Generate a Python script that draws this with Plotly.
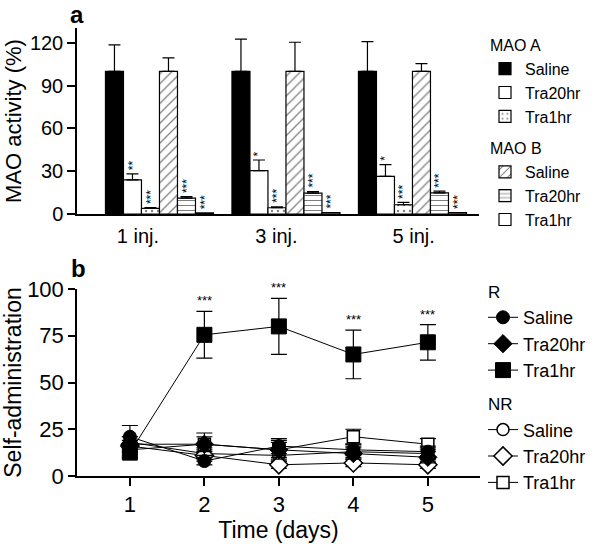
import plotly.graph_objects as go

FONT = "Liberation Sans, Arial, sans-serif"

# ---------------- Panel a data ----------------
injections = ["1 inj.", "3 inj.", "5 inj."]
group_index = [0, 1, 2]
mao_a_saline = [100, 100, 100]
mao_a_saline_err = [18.6, 22.7, 21.0]
mao_a_tra20 = [24.0, 30.4, 26.4]
mao_a_tra20_err = [4.2, 7.5, 8.2]
mao_a_tra1 = [4.0, 4.4, 6.5]
mao_a_tra1_err = [0.5, 0.6, 1.6]
mao_b_saline = [100, 100, 100]
mao_b_saline_err = [9.5, 20.5, 5.5]
mao_b_tra20 = [11.2, 14.7, 14.8]
mao_b_tra20_err = [1.0, 1.0, 1.2]
mao_b_tra1 = [0.8, 1.0, 1.0]
mao_b_tra1_err = [0.0, 0.0, 0.0]

stars_a_tra20 = ["**", "*", "*"]
stars_a_tra1 = ["***", "***", "***"]
stars_b_tra20 = ["***", "***", "***"]
stars_b_tra1 = ["***", "***", "***"]

# ---------------- Panel b data ----------------
days = [1, 2, 3, 4, 5]
r_saline = [21, 8, 16, 14, 13]
r_saline_err = [6, 2, 4, 3, 3]
r_tra20 = [17, 17, 14, 12, 10]
r_tra20_err = [4, 4, 4, 3, 3]
r_tra1 = [12.5, 75.5, 80, 65, 71.5]
r_tra1_err = [3, 12.5, 15, 13, 9.5]
nr_saline = [18, 12, 11, 13, 12]
nr_saline_err = [3, 3, 3, 3, 3]
nr_tra20 = [16, 11, 6, 7, 6]
nr_tra20_err = [3, 3, 2, 2, 2]
nr_tra1 = [14, 17, 14, 21, 17]
nr_tra1_err = [4, 6, 5, 4, 3]
stars_r_tra1 = ["", "***", "***", "***", "***"]

W, H = 602, 544
fig = go.Figure()

n_bars = 6
bargap = 0.146
bar_w = (1 - bargap) / n_bars

bar_specs = [
    ("MAO A", "Saline", mao_a_saline, mao_a_saline_err, dict(color="black"), None),
    ("MAO A", "Tra20hr", mao_a_tra20, mao_a_tra20_err, dict(color="white"), stars_a_tra20),
    ("MAO A", "Tra1hr", mao_a_tra1, mao_a_tra1_err,
     dict(color="white", pattern=dict(shape=".", fgcolor="black", bgcolor="white", size=6, solidity=0.12)),
     stars_a_tra1),
    ("MAO B", "Saline", mao_b_saline, mao_b_saline_err,
     dict(color="white", pattern=dict(shape="/", fgcolor="black", bgcolor="white", size=7, solidity=0.18)),
     None),
    ("MAO B", "Tra20hr", mao_b_tra20, mao_b_tra20_err,
     dict(color="white", pattern=dict(shape="-", fgcolor="black", bgcolor="white", size=5, solidity=0.2)),
     stars_b_tra20),
    ("MAO B", "Tra1hr", mao_b_tra1, mao_b_tra1_err, dict(color="white"), stars_b_tra1),
]

LEG_A_FONT = 16

annotations = []
for i, (grp, name, vals, errs, mk, stars) in enumerate(bar_specs):
    marker = dict(mk)
    marker["line"] = dict(color="black", width=1.2)
    fig.add_trace(go.Bar(
        x=group_index, y=vals, name=name,
        legendgroup=grp,
        legendgrouptitle=dict(text=grp, font=dict(size=LEG_A_FONT, family=FONT, color="black")),
        marker=marker,
        error_y=dict(type="data", array=errs, arrayminus=[0] * len(errs), symmetric=False,
                     color="black", thickness=1.2, width=6, visible=any(e > 0 for e in errs)),
        xaxis="x", yaxis="y", legend="legend",
    ))
    if stars:
        for g, v, e, s in zip(group_index, vals, errs, stars):
            annotations.append(dict(
                x=g + (i - (n_bars - 1) / 2) * bar_w, y=v + e, xref="x", yref="y",
                text=s, showarrow=False, textangle=-90, yanchor="bottom", xanchor="center",
                yshift=2, font=dict(size=12, family=FONT, color="black")))

line_specs = [
    ("NR", "Saline", nr_saline, nr_saline_err, "circle", 12, 4, True),
    ("NR", "Tra20hr", nr_tra20, nr_tra20_err, "diamond", 14, 5, True),
    ("NR", "Tra1hr", nr_tra1, nr_tra1_err, "square", 12, 6, True),
    ("R", "Saline", r_saline, r_saline_err, "circle", 13, 1, False),
    ("R", "Tra20hr", r_tra20, r_tra20_err, "diamond", 14, 2, False),
    ("R", "Tra1hr", r_tra1, r_tra1_err, "square", 15, 3, False),
]
for grp, name, vals, errs, sym, size, rank, is_open in line_specs:
    fig.add_trace(go.Scatter(
        x=days, y=vals, name=name, mode="lines+markers",
        legendgroup=grp, legendrank=rank,
        legendgrouptitle=dict(text=grp, font=dict(size=17, family=FONT, color="black")),
        line=dict(color="black", width=1),
        marker=dict(symbol=sym, size=size, color="white" if is_open else "black",
                    line=dict(color="black", width=1.5 if is_open else 1)),
        error_y=dict(type="data", array=errs, color="black", thickness=1.2, width=8),
        cliponaxis=False, xaxis="x2", yaxis="y2", legend="legend2",
    ))

for d, v, e, s in zip(days, r_tra1, r_tra1_err, stars_r_tra1):
    if s:
        annotations.append(dict(x=d, y=v + e, xref="x2", yref="y2", text=s, showarrow=False,
                                yanchor="bottom", yshift=1, font=dict(size=13, family=FONT, color="black")))

annotations.append(dict(x=76.5 / W, y=1 - 14 / H, xref="paper", yref="paper", text="<b>a</b>",
                        xanchor="center", yanchor="middle",
                        showarrow=False, font=dict(size=24, family=FONT, color="black")))
annotations.append(dict(x=78 / W, y=1 - 268 / H, xref="paper", yref="paper", text="<b>b</b>",
                        xanchor="center", yanchor="middle",
                        showarrow=False, font=dict(size=24, family=FONT, color="black")))

axis_common = dict(showgrid=False, zeroline=False, showline=True, linecolor="black", linewidth=1.5,
                   tickcolor="black", tickwidth=1.5, automargin=False,
                   tickfont=dict(size=20, family=FONT, color="black"))

fig.update_layout(
    width=W, height=H,
    margin=dict(l=0, r=0, t=0, b=0, autoexpand=False),
    paper_bgcolor="white", plot_bgcolor="white",
    font=dict(family=FONT, color="black"),
    barmode="group", bargap=bargap, bargroupgap=0,
    annotations=annotations,
    xaxis=dict(axis_common, domain=[77 / W, 479 / W], range=[-0.652, 2.526], anchor="y",
               tickvals=[-0.17, 0.925, 2.01], ticktext=injections, ticks="", ticklabelstandoff=3),
    yaxis=dict(axis_common, domain=[1 - 214 / H, 1 - 28 / H], range=[0, 130.5], anchor="x",
               tickvals=[0, 30, 60, 90, 120], ticks="outside", ticklen=8,
               title=dict(text="MAO activity (%)", font=dict(size=22, family=FONT, color="black"), standoff=2)),
    xaxis2=dict(axis_common, domain=[77 / W, 480 / W], range=[0.29, 5.70], anchor="y2",
                tickvals=days, ticks="outside", ticklen=8, tickfont=dict(size=22, family=FONT, color="black"),
                title=dict(text="Time (days)", font=dict(size=23, family=FONT, color="black"), standoff=2)),
    yaxis2=dict(axis_common, domain=[1 - 476 / H, 1 - 289 / H], range=[0, 100], anchor="x2",
                tickvals=[0, 25, 50, 75, 100], ticks="outside", ticklen=7,
                tickfont=dict(size=22, family=FONT, color="black"),
                title=dict(text="Self-administration", font=dict(size=23, family=FONT, color="black"), standoff=0)),
    legend=dict(x=485 / W, y=1 - 28 / H, xanchor="left", yanchor="top", traceorder="grouped",
                font=dict(size=LEG_A_FONT, family=FONT, color="black"), tracegroupgap=8,
                bgcolor="rgba(0,0,0,0)", itemclick=False),
    legend2=dict(x=483 / W, y=1 - 274 / H, xanchor="left", yanchor="top", traceorder="grouped",
                 font=dict(size=18, family=FONT, color="black"), tracegroupgap=8,
                 bgcolor="rgba(0,0,0,0)", itemclick=False),
    showlegend=True,
)

fig.write_html("out.html", post_script="document.body.style.margin='0';",
               config={"displayModeBar": False})
